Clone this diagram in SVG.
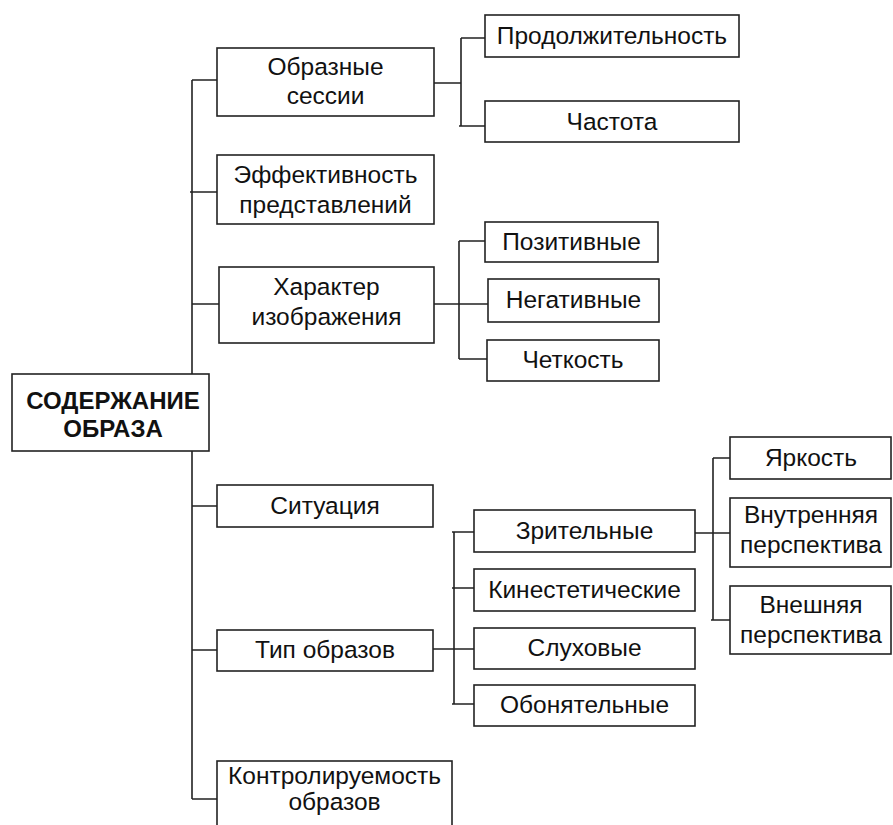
<svg xmlns="http://www.w3.org/2000/svg" width="893" height="825" viewBox="0 0 893 825">
<style>
.b{fill:#fff;stroke:#222;stroke-width:1.6}
.t{font-family:"Liberation Sans",Arial,sans-serif;font-size:24.5px;fill:#111;text-anchor:middle}
.r{font-weight:bold;font-size:24px}
.c{fill:none;stroke:#222;stroke-width:1.6}
</style>
<rect width="893" height="825" fill="#fff"/>
<g id="connectors">
<path class="c" d="M192 80V799M192 80H217M190 192H217M192 304H219M192 506H217M192 650H217M192 799H217"/>
<path class="c" d="M434 83H461M461 38V126M461 38H485M459 126H485"/>
<path class="c" d="M434 304H488M459 241V359M459 241H485M459 359H487"/>
<path class="c" d="M433 649H474M454 532V704M452 532H474M452 588H474M452 704H474"/>
<path class="c" d="M695 533H730M713 458V620M713 458H730M711 620H730"/>
</g>
<g id="root"><rect class="b" x="12" y="374" width="197" height="77"/><text class="t r" x="113" y="409">СОДЕРЖАНИЕ</text><text class="t r" x="113" y="437">ОБРАЗА</text></g>
<g id="sessions"><rect class="b" x="217" y="48" width="217" height="68"/><text class="t" x="325.5" y="75">Образные</text><text class="t" x="325.5" y="104">сессии</text></g>
<g id="duration"><rect class="b" x="485" y="15" width="254" height="42"/><text class="t" x="612" y="44">Продолжительность</text></g>
<g id="frequency"><rect class="b" x="485" y="101" width="254" height="41"/><text class="t" x="612" y="130">Частота</text></g>
<g id="efficiency"><rect class="b" x="217" y="155" width="217" height="69"/><text class="t" x="325.5" y="183">Эффективность</text><text class="t" x="325.5" y="213">представлений</text></g>
<g id="character"><rect class="b" x="219" y="267" width="215" height="76"/><text class="t" x="326.5" y="295">Характер</text><text class="t" x="326.5" y="325">изображения</text></g>
<g id="positive"><rect class="b" x="485" y="222" width="173" height="40"/><text class="t" x="571.5" y="250">Позитивные</text></g>
<g id="negative"><rect class="b" x="488" y="279" width="171" height="43"/><text class="t" x="573.5" y="308">Негативные</text></g>
<g id="clarity"><rect class="b" x="487" y="340" width="172" height="41"/><text class="t" x="573" y="368">Четкость</text></g>
<g id="situation"><rect class="b" x="217" y="485" width="216" height="42"/><text class="t" x="325" y="514">Ситуация</text></g>
<g id="type"><rect class="b" x="217" y="630" width="216" height="41"/><text class="t" x="325" y="658">Тип образов</text></g>
<g id="control"><rect class="b" x="217" y="761" width="235" height="70"/><text class="t" x="334.5" y="784">Контролируемость</text><text class="t" x="334.5" y="810">образов</text></g>
<g id="visual"><rect class="b" x="474" y="510" width="221" height="42"/><text class="t" x="584.5" y="539">Зрительные</text></g>
<g id="kinesthetic"><rect class="b" x="474" y="569" width="221" height="42"/><text class="t" x="584.5" y="598">Кинестетические</text></g>
<g id="auditory"><rect class="b" x="474" y="628" width="221" height="41"/><text class="t" x="584.5" y="656">Слуховые</text></g>
<g id="olfactory"><rect class="b" x="474" y="685" width="221" height="41"/><text class="t" x="584.5" y="713">Обонятельные</text></g>
<g id="brightness"><rect class="b" x="730" y="437" width="161" height="42"/><text class="t" x="811" y="466">Яркость</text></g>
<g id="inner"><rect class="b" x="730" y="498" width="161" height="69"/><text class="t" x="811" y="523">Внутренняя</text><text class="t" x="811" y="553">перспектива</text></g>
<g id="outer"><rect class="b" x="730" y="586" width="161" height="68"/><text class="t" x="811" y="613">Внешняя</text><text class="t" x="811" y="643">перспектива</text></g>
</svg>
